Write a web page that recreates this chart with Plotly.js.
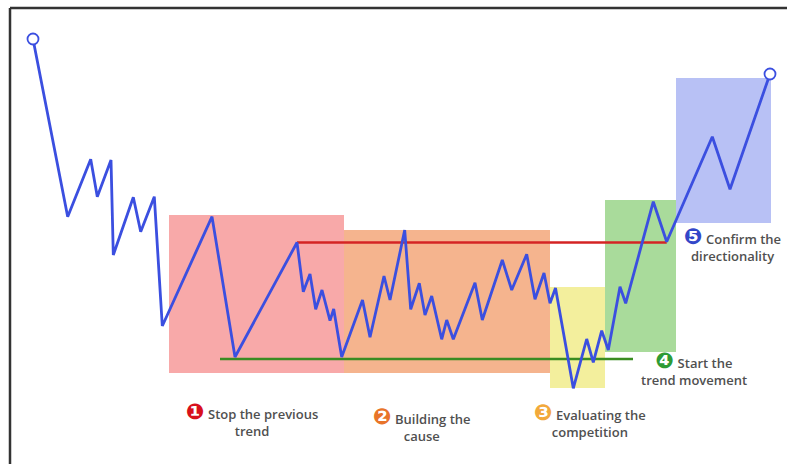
<!DOCTYPE html>
<html>
<head>
<meta charset="utf-8">
<script src="https://cdn.plot.ly/plotly-3.0.1.min.js"></script>
<style>
  html, body { margin: 0; padding: 0; background: #ffffff; }
  #chart { width: 787px; height: 464px; }
</style>
</head>
<body>
<div id="chart"></div>
<script>
// Price path (x = time position, y = level on a top-down scale)
const pathX = [33, 67.7, 90.7, 97.3, 111, 113.3, 133.3, 140.7, 154.3, 162.3,
  212, 235, 297, 303.3, 310, 315.7, 322, 330, 333.7, 341.7,
  362.5, 370, 384, 390, 404.7, 410.7, 419.3, 425, 431.7, 441.7,
  446.7, 453.3, 475, 482.3, 502.3, 511.7, 526.7, 535, 544, 550,
  555.5, 573.3, 586.7, 593.3, 601.7, 608.3, 620, 625.7, 653.3, 666.7,
  712.3, 730, 770];
const pathY = [39, 216.7, 159.3, 196.7, 160, 255, 197.3, 231.7, 196.7, 326,
  216.7, 357, 242.5, 291.7, 274, 309.3, 290, 320.7, 309, 357,
  300, 337.3, 276, 300, 230, 309.3, 283.3, 315, 296, 339.3,
  320, 339.3, 282.7, 320, 260, 290, 254.3, 299.3, 273, 303.3,
  288, 388.3, 339, 362.3, 330.7, 350, 286.7, 303.3, 201.7, 241.7,
  136.7, 189.3, 74];

// Phase zones
const zoneX0 = [169, 344, 550, 605, 676];
const zoneX1 = [344, 550, 605, 676, 771];
const zoneY0 = [215, 230, 287, 200, 78];
const zoneY1 = [373, 373, 388, 352, 223];
const zoneColors = ['#f8a9a9', '#f5b48e', '#f3ef9d', '#a9db9b', '#b8c1f5'];

// Resistance / support levels
const resistanceX = [297, 666.7];
const resistanceY = [242.5, 242.5];
const supportX = [220, 633];
const supportY = [359, 359];

// Step labels
const stepNums = ['❶', '❷', '❸', '❹', '❺'];
const stepNumColors = ['#d8101c', '#e8742a', '#f2a93b', '#2e9b35', '#3347c8'];
const stepLines1 = ['Stop the previous', 'Building the', 'Evaluating the', 'Start the', 'Confirm the'];
const stepLines2 = ['trend', 'cause', 'competition', 'trend movement', 'directionality'];
const stepX = [252, 422, 590, 694, 732];
const stepY = [419, 424.5, 420, 368, 244];

const shapes = zoneX0.map((x0, i) => ({
  type: 'rect', xref: 'x', yref: 'y', layer: 'below',
  x0: x0, x1: zoneX1[i], y0: zoneY0[i], y1: zoneY1[i],
  fillcolor: zoneColors[i], line: { width: 0 }
}));
// frame
shapes.push({ type: 'line', xref: 'x', yref: 'y', x0: 10, x1: 10, y0: 8, y1: 464, line: { color: '#333333', width: 2.5 } });
shapes.push({ type: 'line', xref: 'x', yref: 'y', x0: 10, x1: 787, y0: 8, y1: 8, line: { color: '#333333', width: 2.5 } });

const traces = [
  { x: resistanceX, y: resistanceY, mode: 'lines', line: { color: '#d42424', width: 2.5 }, hoverinfo: 'skip' },
  { x: supportX, y: supportY, mode: 'lines', line: { color: '#3a8c22', width: 2.5 }, hoverinfo: 'skip' },
  { x: pathX, y: pathY, mode: 'lines', line: { color: '#3b4fe0', width: 2.8 }, hoverinfo: 'skip' },
  { x: [pathX[0], pathX[pathX.length - 1]], y: [pathY[0], pathY[pathY.length - 1]], mode: 'markers',
    marker: { symbol: 'circle', size: 11, color: '#ffffff', line: { color: '#3b4fe0', width: 1.8 } }, hoverinfo: 'skip' }
];

const annotations = stepNums.map((n, i) => ({
  xref: 'x', yref: 'y', x: stepX[i], y: stepY[i], showarrow: false,
  xanchor: 'center', yanchor: 'middle', align: 'center',
  text: '<span style="color:' + stepNumColors[i] + ';font-size:22px;font-family:DejaVu Sans">' + n + '</span> ' + stepLines1[i] + '<br>' + stepLines2[i],
  font: { family: 'Open Sans, DejaVu Sans, sans-serif', size: 13, color: '#505050', weight: 600 }
}));

const layout = {
  width: 787, height: 464,
  margin: { l: 0, r: 0, t: 0, b: 0, pad: 0 },
  paper_bgcolor: '#ffffff', plot_bgcolor: '#ffffff',
  showlegend: false,
  xaxis: { range: [0, 787], visible: false, fixedrange: true },
  yaxis: { range: [464, 0], visible: false, fixedrange: true },
  shapes: shapes,
  annotations: annotations
};

Plotly.newPlot('chart', traces, layout, { displayModeBar: false, staticPlot: true });
</script>
</body>
</html>
